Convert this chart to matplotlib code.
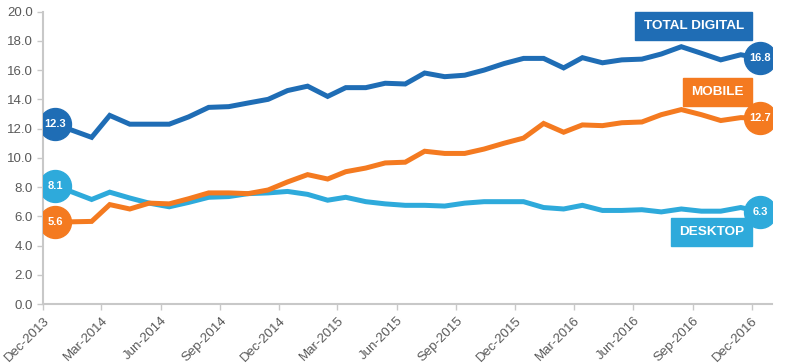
import pandas as pd
import matplotlib.pyplot as plt

plt.rcParams["font.family"] = ["Liberation Sans", "DejaVu Sans"]

# Data
dates = pd.to_datetime(["2013-12-20"]).append(
    pd.date_range("2014-02-01", periods=35, freq="MS") + pd.Timedelta(days=13))

total_digital = [12.3, 11.4, 12.9, 12.3, 12.3, 12.3, 12.8, 13.45, 13.5, 13.75,
                 14.0, 14.6, 14.9, 14.2, 14.8, 14.8, 15.1, 15.05, 15.8, 15.55,
                 15.65, 16.0, 16.45, 16.8, 16.8, 16.15, 16.85, 16.5, 16.7, 16.75,
                 17.1, 17.6, 17.15, 16.7, 17.05, 16.8]
mobile = [5.6, 5.65, 6.8, 6.5, 6.9, 6.85, 7.2, 7.6, 7.6, 7.55,
          7.8, 8.35, 8.85, 8.55, 9.05, 9.3, 9.65, 9.7, 10.45, 10.3,
          10.3, 10.6, 11.0, 11.35, 12.35, 11.75, 12.25, 12.2, 12.4, 12.45,
          12.95, 13.3, 12.95, 12.55, 12.75, 12.7]
desktop = [8.1, 7.15, 7.65, 7.25, 6.9, 6.65, 6.95, 7.3, 7.35, 7.55,
           7.6, 7.7, 7.5, 7.1, 7.3, 7.0, 6.85, 6.75, 6.75, 6.7,
           6.9, 7.0, 7.0, 7.0, 6.6, 6.5, 6.75, 6.4, 6.4, 6.45,
           6.3, 6.5, 6.35, 6.35, 6.6, 6.3]

series_names = ["TOTAL DIGITAL", "MOBILE", "DESKTOP"]
series_values = [total_digital, mobile, desktop]
colors = ["#1f6db5", "#f47a20", "#2eaadb"]
label_y = [19.0, 14.5, 4.9]

tick_dates = pd.date_range("2013-12-01", "2016-12-01", freq="3MS")
tick_labels = [d.strftime("%b-%Y") for d in tick_dates]

fig = plt.figure(figsize=(7.99, 3.63), dpi=100)
ax = fig.add_axes([0.054, 0.1625, 0.912, 0.8055])

# draw lines back to front: desktop, mobile, total
for vals, col in zip(series_values[::-1], colors[::-1]):
    ax.plot(dates, vals, color=col, lw=3.6, solid_joinstyle="miter", zorder=2)

# end-point bubbles
for vals, col in zip(series_values, colors):
    for i in (0, -1):
        ax.plot(dates[i], vals[i], "o", ms=23, color=col, mec=col, zorder=4)
        ax.text(dates[i], vals[i], f"{vals[i]:.1f}", color="white",
                fontsize=8, fontweight="bold", ha="center", va="center", zorder=5)

# series name boxes
for name, col, y in zip(series_names, colors, label_y):
    ax.annotate(name, xy=(tick_dates[-1], y), xytext=(-8, 0),
                textcoords="offset pixels", ha="right", va="center",
                color="white", fontsize=9.7, fontweight="bold", zorder=5,
                bbox=dict(boxstyle="square,pad=0.6", fc=col, ec=col))

ax.set_ylim(0, 20)
ax.set_yticks(range(0, 21, 2))
ax.set_yticklabels([f"{v:.1f}" for v in range(0, 21, 2)])
ax.set_xlim(pd.Timestamp("2013-12-01"), pd.Timestamp("2017-01-01"))
ax.set_xticks(tick_dates)
ax.set_xticklabels(tick_labels, rotation=45, ha="right", rotation_mode="anchor")

for side in ("top", "right"):
    ax.spines[side].set_visible(False)
for side in ("left", "bottom"):
    ax.spines[side].set_color("#c8c8c8")
    ax.spines[side].set_linewidth(1.5)
ax.tick_params(colors="#c8c8c8", labelcolor="#595959", labelsize=9.5, length=4, width=1)

fig.savefig("out.png", dpi=100)
